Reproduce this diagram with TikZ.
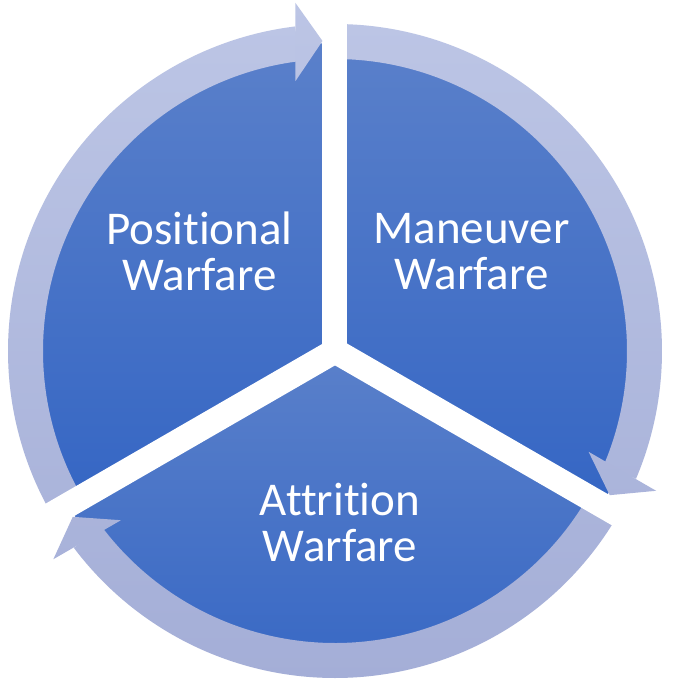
\documentclass[tikz,border=0pt]{standalone}
\usepackage{fontspec}
\setmainfont{Carlito}[Ligatures=NoCommon]
\usetikzlibrary{calc}
\definecolor{pietop}{HTML}{5A80CA}
\definecolor{piebot}{HTML}{3566C4}
\definecolor{ringtop}{HTML}{BCC5E5}
\definecolor{ringbot}{HTML}{A4AED7}
\tikzset{
  sector/.style={top color=pietop, bottom color=piebot, draw=none},
  lbl/.style={text=white, align=center, inner sep=0pt, font=\fontsize{47}{46}\selectfont},
}
\begin{document}
\begin{tikzpicture}[x=1pt,y=1pt]
\useasboundingbox (-335,-337) rectangle (337,351);
\fill[white] (-335,-337) rectangle (337,351);
% pie sectors
\shade[sector] (0,0) -- (90:308) arc[start angle=90, end angle=210, radius=308] -- cycle;
\shade[sector] (0,0) -- (-30:308) arc[start angle=-30, end angle=90, radius=308] -- cycle;
\shade[sector] (0,0) -- (210:308) arc[start angle=210, end angle=330, radius=308] -- cycle;
% ring bands
\begin{scope}
\clip (210:327) arc[start angle=210, end angle=97, radius=327] -- (97:292) arc[start angle=97, end angle=210, radius=292] -- cycle;
\shade[top color=ringtop, bottom color=ringbot] (-330,-330) rectangle (330,330);
\end{scope}
\begin{scope}
\clip (90:327) arc[start angle=90, end angle=-23, radius=327] -- (-23:292) arc[start angle=-23, end angle=90, radius=292] -- cycle;
\shade[top color=ringtop, bottom color=ringbot] (-330,-330) rectangle (330,330);
\end{scope}
\begin{scope}
\clip (-30:327) arc[start angle=-30, end angle=-143, radius=327] -- (-143:292) arc[start angle=-143, end angle=-30, radius=292] -- cycle;
\shade[top color=ringtop, bottom color=ringbot] (-330,-330) rectangle (330,330);
\end{scope}
% white gaps
\foreach \g in {90,210,330}{
  \fill[white] ($(\g:0)+(\g+90:12.5)$) -- ($(\g:360)+(\g+90:12.5)$) -- ($(\g:360)+(\g-90:12.5)$) -- ($(\g:0)+(\g-90:12.5)$) -- cycle;
}
% arrow heads
\foreach \g in {90,210,330}{
  \begin{scope}
  \clip ($(\g:270)+(\g+90:39.5)$) -- ($(\g:348)+(\g+90:39.5)$) -- ($(\g:310)+(\g+90:12.5)$) -- cycle;
  \shade[top color=ringtop, bottom color=ringbot] (-330,-330) rectangle (330,350);
  \end{scope}
}
% labels
\node[lbl] (pos) at (-135.5,99.5) {Positional\\Warfare};
\node[lbl] (man) at (136.5,99.5) {Maneuver\\Warfare};
\node[lbl] (att) at (5,-172) {Attrition\\Warfare};
\end{tikzpicture}
\end{document}
